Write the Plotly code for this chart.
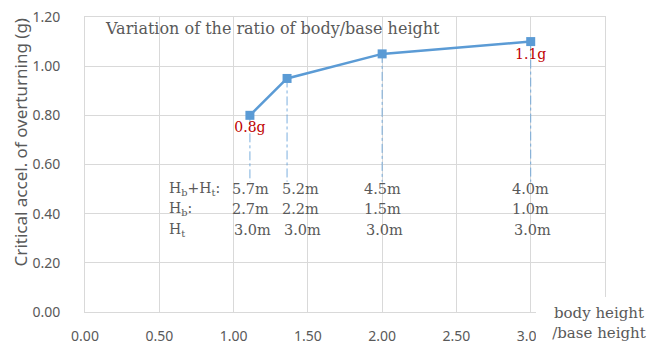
import plotly.graph_objects as go

# Body/base height ratio and the critical overturning acceleration
ratio = [1.11, 1.36, 2.00, 3.00]
accel = [0.80, 0.95, 1.05, 1.10]
value_labels = ["0.8g", "", "", "1.1g"]

# Height breakdown for each case
total_height = ["5.7m", "5.2m", "4.5m", "4.0m"]
base_height = ["2.7m", "2.2m", "1.5m", "1.0m"]
body_height = ["3.0m", "3.0m", "3.0m", "3.0m"]
row_names = ["H<sub>b</sub>+H<sub>t</sub>:", "H<sub>b</sub>:", "H<sub>t</sub>"]

x_ticks = [0.0, 0.5, 1.0, 1.5, 2.0, 2.5, 3.0, 3.5]
y_ticks = [0.0, 0.2, 0.4, 0.6, 0.8, 1.0, 1.2]

BLUE = "#5b9bd5"
GREY = "#595959"
GRID = "#d9d9d9"
RED = "#c00000"
SERIF = "DejaVu Serif"
SANS = "Noto Sans"

fig = go.Figure()

# thin drop lines from each point towards the height table
drop_bottom = 0.53
for xv, yv in zip(ratio, accel):
    fig.add_trace(go.Scatter(
        x=[xv, xv], y=[yv, drop_bottom], mode="lines",
        line=dict(color=BLUE, width=0.8, dash="dashdot"),
        hoverinfo="skip", showlegend=False))

fig.add_trace(go.Scatter(
    x=ratio, y=accel, mode="lines+markers+text",
    line=dict(color=BLUE, width=2.5),
    marker=dict(symbol="square", size=9, color=BLUE),
    text=value_labels, textposition="bottom center",
    textfont=dict(family=SERIF, size=14, color=RED),
    showlegend=False))

ann = []
ann.append(dict(x=0.035, xref="paper", y=1.153, yref="y", xanchor="left", yanchor="middle",
                text="Variation of the ratio of body/base height", showarrow=False,
                font=dict(family=SERIF, size=16, color=GREY)))

# height table
row_y = [0.501, 0.417, 0.332]
for r, name in enumerate(row_names):
    ann.append(dict(x=0.555, y=row_y[r], xanchor="left", yanchor="middle", text=name,
                    showarrow=False, font=dict(family=SERIF, size=14, color=GREY)))
col_shift = [1, 13, 0, 0]
for i, xv in enumerate(ratio):
    for r, vals in enumerate([total_height, base_height, body_height]):
        ann.append(dict(x=xv, y=row_y[r], xanchor="center", yanchor="middle", text=vals[i],
                        xshift=col_shift[i] + (2 if r == 2 else 0), showarrow=False,
                        font=dict(family=SERIF, size=14.5, color=GREY)))

# y-axis title
ann.append(dict(x=-0.125, xref="paper", y=0.575, yref="paper", textangle=-90,
                xanchor="center", yanchor="middle", showarrow=False,
                text="Critical accel. of overturning (g)",
                font=dict(family=SANS, size=17, color=GREY)))
# x-axis title sitting on a white box in the lower right corner
ann.append(dict(x=0.988, xref="paper", y=-0.0373, yref="paper", xanchor="center",
                yanchor="middle", showarrow=False, align="center",
                text="body height<br>/base height", width=126, height=52,
                bgcolor="white", borderpad=0, borderwidth=0,
                font=dict(family=SERIF, size=15, color=GREY)))
fig.update_layout(annotations=ann)

fig.update_xaxes(range=[0, 3.5], tickvals=x_ticks, ticktext=[f"{v:.2f}" for v in x_ticks],
                 showgrid=True, gridcolor=GRID, gridwidth=1, zeroline=False,
                 showline=True, linecolor=GRID, linewidth=1, mirror=True,
                 ticks="", tickfont=dict(family=SANS, size=14, color=GREY),
                 ticklabelstandoff=11, automargin=False)
fig.update_yaxes(range=[0, 1.2], tickvals=y_ticks, ticktext=[f"{v:.2f}" for v in y_ticks],
                 showgrid=True, gridcolor=GRID, gridwidth=1, zeroline=False,
                 showline=True, linecolor=GRID, linewidth=1, mirror=True,
                 ticks="", tickfont=dict(family=SANS, size=14, color=GREY),
                 ticklabelstandoff=21, automargin=False)

fig.update_layout(width=662, height=349, margin=dict(l=85, r=57, t=17, b=37),
                  plot_bgcolor="white", paper_bgcolor="white")

fig.write_html("out.html")
